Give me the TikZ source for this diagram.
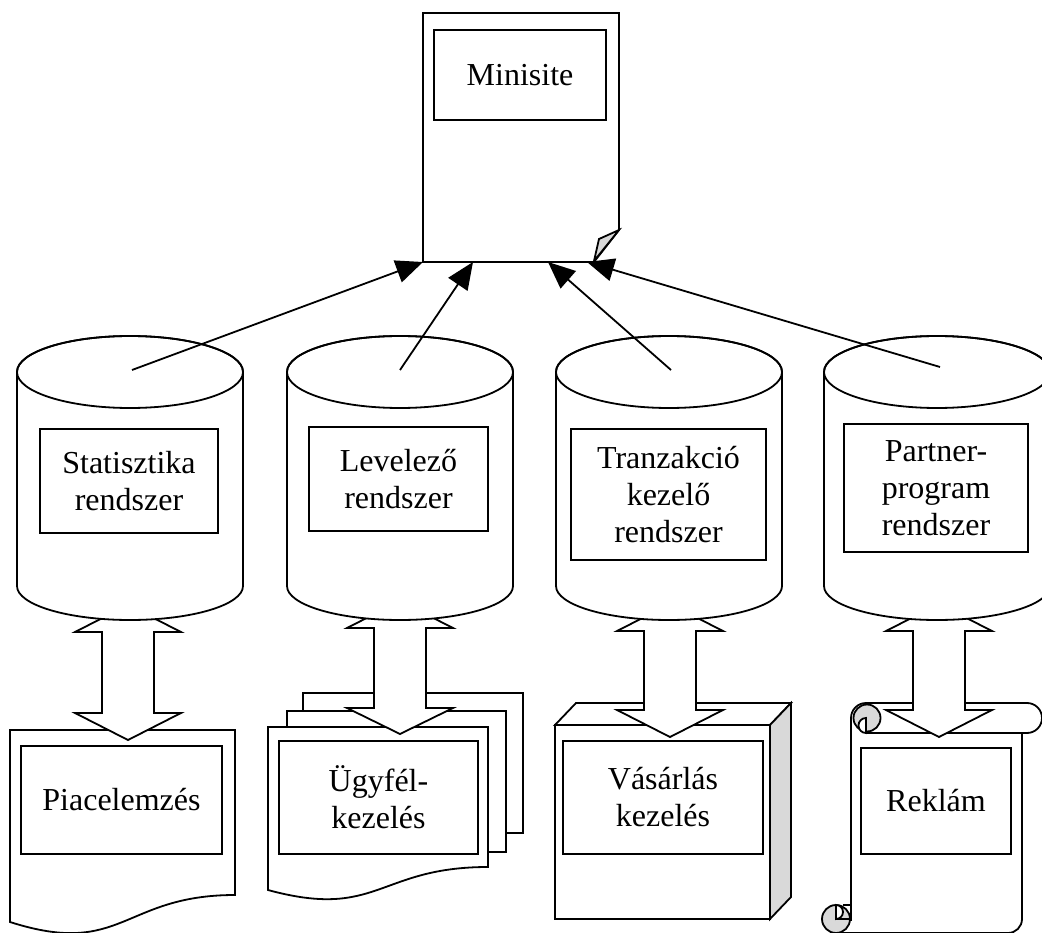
\documentclass[tikz,border=0pt]{standalone}
\usepackage{fontspec}
\setmainfont{Liberation Serif}
\usetikzlibrary{arrows.meta,calc}
\tikzset{
 tbox/.style={draw, line width=1.8pt, fill=white, inner sep=0pt, align=center, font=\fontsize{32}{37}\selectfont},
 outl/.style={draw, line width=1.8pt, line join=miter},
 conn/.style={line width=1.8pt, -{Triangle[length=27pt,width=23pt]}},
 shade/.style={fill=black!15},
}
\newcommand\blockarr[4]{%
 \filldraw[outl, fill=white] ({#1-26},#2) -- ({#1-53},#2) -- (#1,{#2-27}) -- ({#1+53},#2) -- ({#1+26},#2)
   -- ({#1+26},#3) -- ({#1+53},#3) -- (#1,#4) -- ({#1-53},#3) -- ({#1-26},#3) -- cycle;}
\begin{document}
\begin{tikzpicture}[x=1pt,y=-1pt]
\useasboundingbox (0,0) rectangle (1042,933);

% top document with folded corner
\filldraw[outl, fill=white] (423,13) -- (619,13) -- (619,230) -- (594,262) -- (423,262) -- cycle;
\filldraw[outl, shade] (619,230) -- (599,239) -- (594,261) -- cycle;
\node[tbox, minimum width=172, minimum height=90] (mini) at (520,75) {Minisite};

% document 1
\filldraw[outl, fill=white] (10,730) -- (235,730) -- (235,895) .. controls (122.5,895) and (122.5,958) .. (10,922) -- cycle;
\node[tbox, minimum width=201, minimum height=108] (piac) at (121.5,800) {Piacelemzés};

% multi document
\filldraw[outl, fill=white] (303,693) rectangle (523,833);
\filldraw[outl, fill=white] (287,711) rectangle (506,852);
\filldraw[outl, fill=white] (268,727) -- (488,727) -- (488,867) .. controls (378,867) and (378,920) .. (268,890) -- cycle;
\node[tbox, minimum width=199, minimum height=113] (ugy) at (378.5,797.5) {Ügyfél-\\kezelés};

% cube
\filldraw[outl, fill=white] (555,725) -- (576,703) -- (791,703) -- (770,725) -- cycle;
\filldraw[outl, shade] (770,725) -- (791,703) -- (791,897) -- (770,919) -- cycle;
\filldraw[outl, fill=white] (555,725) rectangle (770,919);
\node[tbox, minimum width=200, minimum height=113] (vas) at (663,797.5) {Vásárlás\\kezelés};

% scroll
\fill[white] (851,718) rectangle (1022,933);
\draw[outl] (851,718) -- (851,921);
\draw[outl] (1022,733) -- (1022,919) arc[start angle=0,end angle=-90,radius=14pt] -- (836,933);
\filldraw[outl, fill=white] (866,703) -- (1027,703) arc[start angle=90,end angle=-90,radius=15pt] -- (866,733);
\draw[outl] (866,703) arc[start angle=90,end angle=180,radius=15pt];
\filldraw[outl, shade] (867,718) circle[radius=13.5pt];
\filldraw[outl, fill=white] (866,718) arc[start angle=90,end angle=270,radius=7.5pt] -- cycle;
\filldraw[outl, shade] (836,919) circle[radius=14pt];
\filldraw[outl, fill=white] (836,905) arc[start angle=90,end angle=-90,radius=7pt] -- cycle;
\draw[outl] (843,905) -- (851,905);
\draw[outl] (836,919) -- (851,919);
\node[tbox, minimum width=150, minimum height=106] (rek) at (936,801) {Reklám};

% block arrows
\blockarr{128}{632}{713}{740}
\blockarr{400}{628}{708}{734}
\blockarr{670}{631}{710}{737}
\blockarr{939}{631}{710}{737}

% cylinders
\foreach \cx in {130,400,669,937} {
 \filldraw[outl, fill=white] ({\cx-113},586) -- ({\cx-113},372) arc[start angle=180,end angle=0,x radius=113pt,y radius=36pt]
   -- ({\cx+113},586) arc[start angle=0,end angle=-180,x radius=113pt,y radius=34pt] -- cycle;
 \draw[outl] (\cx,372) ellipse[x radius=113pt,y radius=36pt];
}
\node[tbox, minimum width=178, minimum height=104] (stat) at (129,481) {Statisztika\\rendszer};
\node[tbox, minimum width=179, minimum height=104] (lev) at (398.5,479) {Levelező\\rendszer};
\node[tbox, minimum width=195, minimum height=131] (tran) at (668.5,494.5) {Tranzakció\\kezelő\\rendszer};
\node[tbox, minimum width=184, minimum height=128] (part) at (936,488) {Partner-\\program\\rendszer};

% connectors
\coordinate (c1) at (132,370);
\coordinate (c2) at (400,370);
\coordinate (c3) at (671,370);
\coordinate (c4) at (940,367);
\coordinate (t1) at (423,262);
\coordinate (t2) at (473,262);
\coordinate (t3) at (548,262);
\coordinate (t4) at (587,262);
\draw[conn] (c1) -- (t1);
\draw[conn] (c2) -- (t2);
\draw[conn] (c3) -- (t3);
\draw[conn] (c4) -- (t4);
\end{tikzpicture}
\end{document}
